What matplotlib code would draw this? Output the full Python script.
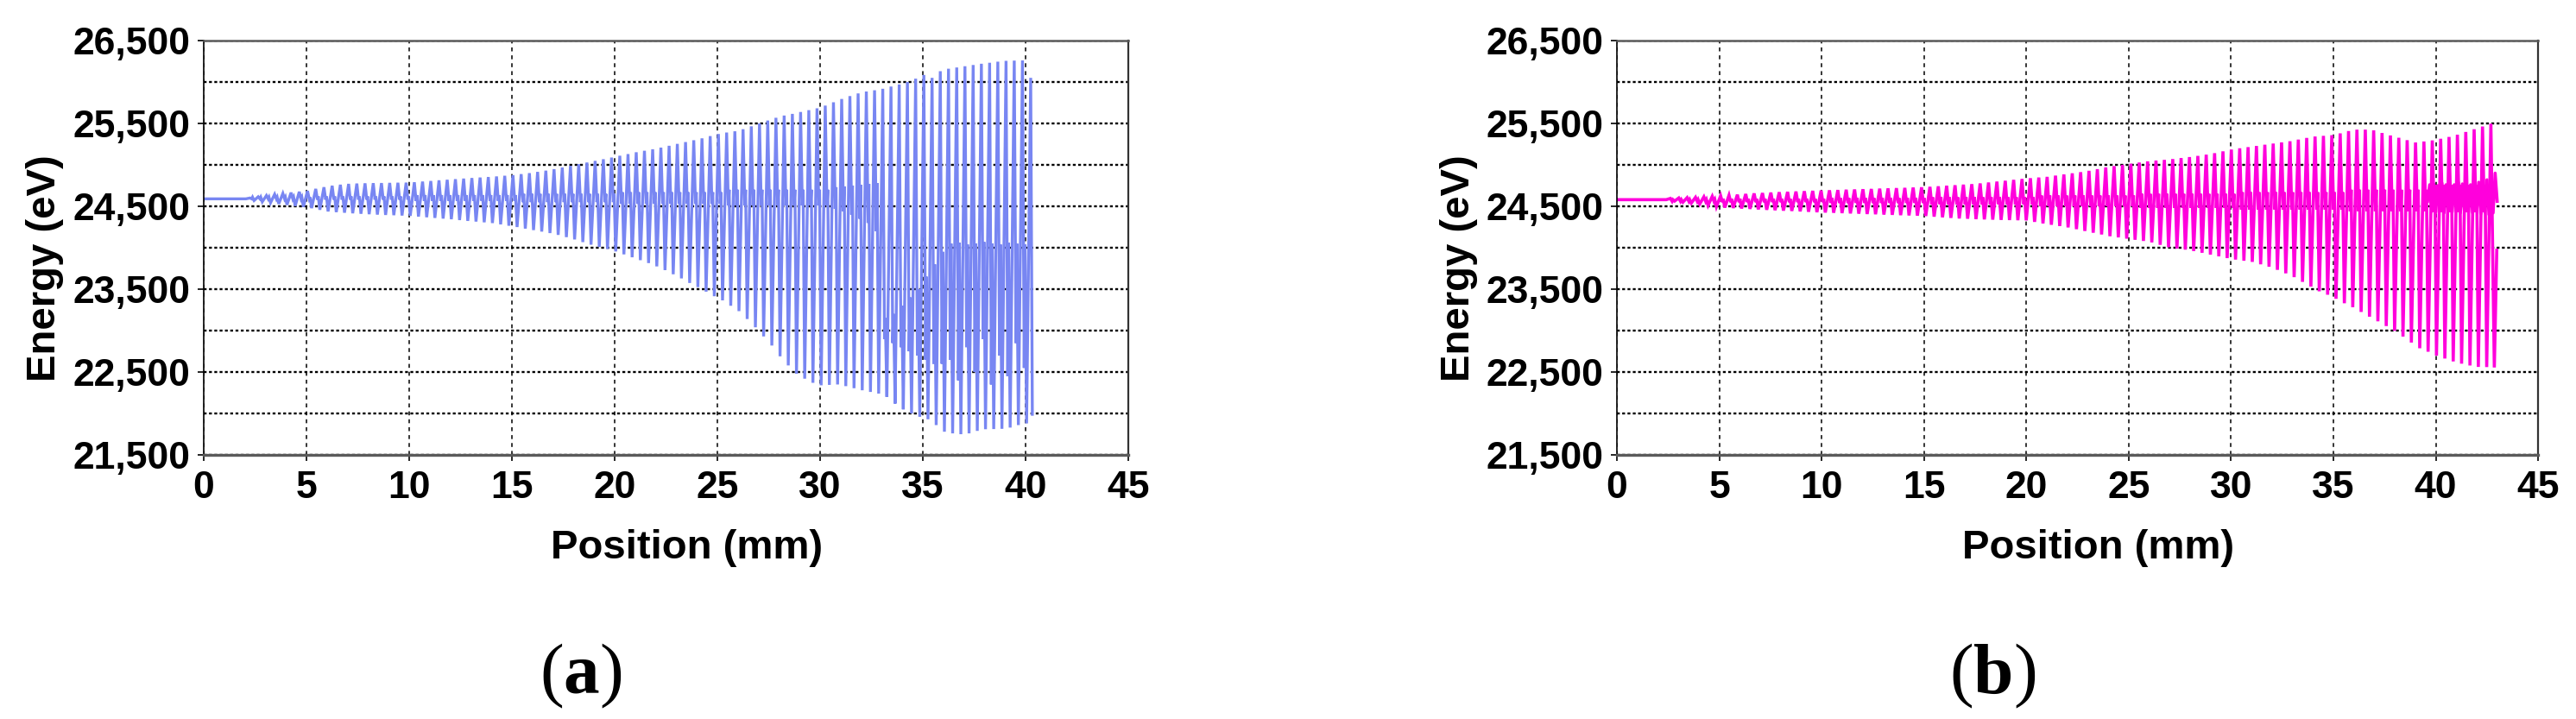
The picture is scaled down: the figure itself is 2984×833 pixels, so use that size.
import numpy as np
import matplotlib
matplotlib.use("Agg")
import matplotlib.pyplot as plt
from matplotlib.ticker import FuncFormatter

# ---------------- data ----------------
x_ticks = [0, 5, 10, 15, 20, 25, 30, 35, 40, 45]
y_ticks = [21500, 22500, 23500, 24500, 25500, 26500]
y_minor = [22000, 23000, 24000, 25000, 26000]
x_label = "Position (mm)"
y_label = "Energy (eV)"
panel_letters = ["a", "b"]

# panel (a): flat start, oscillation cycles (period ~0.40 mm, first peak at 2.25 mm)
start_a_pos = [0.0]
start_a_val = [24590]
first_peak_a = 2.25
period_a = 0.40
peak_a = [24600, 24615, 24630, 24645, 24655, 24665, 24675, 24685, 24710, 24730,
          24748, 24760, 24770, 24774, 24777, 24779, 24780, 24782, 24784, 24785,
          24790, 24798, 24805, 24813, 24820, 24827, 24834, 24841, 24847, 24853,
          24860, 24868, 24876, 24888, 24900, 24915, 24930, 24948, 24968, 24988,
          25008, 25028, 25048, 25068, 25088, 25110, 25130, 25152, 25170, 25188,
          25208, 25230, 25253, 25275, 25297, 25320, 25347, 25372, 25390, 25405,
          25430, 25465, 25500, 25535, 25568, 25595, 25615, 25638, 25660, 25682,
          25715, 25755, 25795, 25830, 25862, 25885, 25900, 25918, 25945, 25970,
          26000, 26040, 26085, 26050, 26130, 26160, 26175, 26190, 26205, 26220,
          26232, 26245, 26255, 26258, 26260, 26050]
trough_a = [24590, 24570, 24555, 24543, 24530, 24518, 24505, 24493, 24478, 24458,
            24438, 24430, 24423, 24416, 24410, 24405, 24400, 24396, 24393, 24389,
            24385, 24376, 24368, 24360, 24352, 24344, 24334, 24324, 24316, 24307,
            24298, 24282, 24266, 24250, 24231, 24213, 24195, 24177, 24155, 24128,
            24100, 24068, 24037, 24010, 23985, 23955, 23920, 23885, 23850, 23815,
            23775, 23730, 23680, 23630, 23575, 23525, 23470, 23415, 23365, 23300,
            23235, 23140, 23040, 22930, 22820, 22690, 22580, 22480, 22420, 22370,
            22340, 22345, 22350, 22330, 22305, 22280, 22260, 22240, 22200, 22120,
            22050, 22000, 21960, 21930, 21860, 21780, 21760, 21750, 21760, 21790,
            21810, 21812, 21815, 21830, 21860, 21880]
dip_a = [24590, 24590, 24590, 24590, 24590, 24590, 24590, 24590,
         24580, 24580, 24580, 24580, 24580, 24580, 24580, 24580, 24580, 24580, 24580, 24580,
         24565, 24565, 24565, 24565, 24565, 24565, 24565, 24565, 24565, 24565, 24565, 24565, 24565,
         24550, 24550, 24550, 24550, 24550, 24550, 24550, 24550, 24550, 24550, 24550, 24550,
         24530, 24530, 24530, 24530, 24530, 24530, 24530, 24530, 24530, 24530, 24530, 24530, 24530,
         24510, 24510, 24510, 24510, 24510, 24510, 24510, 24510, 24510, 24510, 24510, 24510, 24510,
         24470, 24440, 24400, 24350, 24300, 24200,
         22900, 22850, 22800, 22750, 22700, 22650, 22600, 22600,
         22650, 22400, 22800, 22500, 22900, 22350, 22700, 22450, 22850, 22550]
bump_a = [24610, 24610, 24610, 24610, 24610, 24610, 24610, 24610,
          24620, 24620, 24620, 24620, 24620, 24620, 24620, 24620, 24620, 24620, 24620, 24620,
          24635, 24635, 24635, 24635, 24635, 24635, 24635, 24635, 24635, 24635, 24635, 24635, 24635,
          24650, 24650, 24650, 24650, 24650, 24650, 24650, 24650, 24650, 24650, 24650, 24650,
          24670, 24670, 24670, 24670, 24670, 24670, 24670, 24670, 24670, 24670, 24670, 24670, 24670,
          24700, 24700, 24700, 24700, 24700, 24700, 24700, 24700, 24700, 24700, 24700, 24700, 24700,
          24730, 24740, 24750, 24760, 24770, 24780,
          23150, 23200, 23300, 23400, 23500, 23650, 23800, 23950,
          24050, 24060, 24040, 24050, 24070, 24050, 24040, 24060, 24050, 24040]
tail_a_pos = [40.33]
tail_a_val = [21990]

# panel (b): flat start, cycles (period ~0.409 mm, first peak at 2.61 mm)
start_b_pos = [0.0]
start_b_val = [24580]
first_peak_b = 2.61
period_b = 0.409
peak_b = [24595, 24600, 24604, 24608, 24614, 24620, 24626, 24633, 24640, 24648,
          24655, 24660, 24665, 24670, 24674, 24678, 24682, 24686, 24690, 24693,
          24696, 24700, 24703, 24706, 24709, 24713, 24716, 24719, 24722, 24726,
          24729, 24735, 24741, 24748, 24754, 24761, 24767, 24776, 24787, 24798,
          24808, 24819, 24830, 24839, 24847, 24855, 24870, 24884, 24898, 24912,
          24928, 24948, 24969, 24985, 25000, 25014, 25028, 25042, 25052, 25060,
          25070, 25082, 25094, 25108, 25123, 25141, 25163, 25185, 25200, 25214,
          25228, 25243, 25257, 25271, 25285, 25305, 25325, 25342, 25350, 25358,
          25380, 25408, 25425, 25425, 25416, 25385, 25355, 25327, 25298, 25270,
          25282, 25295, 25315, 25337, 25364, 25397, 25430, 25463, 25497]
trough_b = [24580, 24563, 24550, 24539, 24528, 24511, 24495, 24485, 24480, 24474,
            24469, 24463, 24458, 24453, 24448, 24444, 24439, 24434, 24429, 24425,
            24422, 24418, 24414, 24411, 24407, 24404, 24400, 24397, 24393, 24390,
            24387, 24383, 24375, 24367, 24360, 24353, 24350, 24345, 24342, 24339,
            24336, 24334, 24332, 24330, 24312, 24293, 24277, 24262, 24245, 24224,
            24202, 24181, 24160, 24139, 24125, 24110, 24096, 24082, 24064, 24035,
            24006, 23990, 23977, 23960, 23939, 23917, 23896, 23875, 23857, 23843,
            23829, 23800, 23771, 23733, 23691, 23645, 23588, 23531, 23474, 23433,
            23384, 23330, 23282, 23225, 23168, 23112, 23055, 22998, 22928, 22856,
            22787, 22745, 22698, 22663, 22628, 22601, 22579, 22562, 22560]
dip_b = [24560, 24560, 24560, 24560, 24560, 24560,
         24550, 24550, 24550, 24550, 24550, 24550, 24550, 24550, 24550, 24550, 24550, 24550, 24550,
         24540, 24540, 24540, 24540, 24540, 24540, 24540, 24540, 24540, 24540, 24540, 24540,
         24525, 24525, 24525, 24525, 24525, 24525, 24525, 24525, 24525, 24525, 24525, 24525, 24525,
         24500, 24500, 24500, 24500, 24500, 24500, 24500, 24500, 24500, 24500, 24500, 24500,
         24480, 24480, 24480, 24480, 24480, 24480, 24480, 24480, 24480, 24480, 24480, 24480,
         24460, 24460, 24460, 24460, 24460, 24460, 24460, 24460, 24460, 24460, 24460, 24460, 24460,
         24440, 24440, 24440, 24440, 24440, 24440, 24440, 24440, 24440, 24440,
         24430, 24430, 24430, 24430, 24430, 24430, 24430]
bump_b = [24580, 24580, 24580, 24580, 24580, 24580,
          24590, 24590, 24590, 24590, 24590, 24590, 24590, 24590, 24590, 24590, 24590, 24590, 24590,
          24600, 24600, 24600, 24600, 24600, 24600, 24600, 24600, 24600, 24600, 24600, 24600,
          24610, 24610, 24610, 24610, 24610, 24610, 24610, 24610, 24610, 24610, 24610, 24610, 24610,
          24630, 24630, 24630, 24630, 24630, 24630, 24630, 24630, 24630, 24630, 24630, 24630,
          24650, 24650, 24650, 24650, 24650, 24650, 24650, 24650, 24650, 24650, 24650, 24650,
          24670, 24670, 24670, 24670, 24670, 24670, 24670, 24670, 24670, 24670, 24670, 24670, 24670,
          24700, 24700, 24700, 24700, 24700, 24700, 24700, 24700, 24700, 24700,
          24760, 24760, 24760, 24760, 24760, 24760, 24760]
tail_b_pos = [42.86, 42.98]
tail_b_val = [22555, 23970]
# dense mid-band of panel (b), 39.6 .. 43.0 mm
band_b_range = (39.6, 43.0)
band_b_val = [24560, 24760, 24440, 24770, 24430, 24750, 24450, 24780, 24420, 24760,
              24440, 24770, 24430, 24760, 24450, 24790, 24420, 24770, 24440, 24780,
              24430, 24760, 24420, 24800, 24440, 24790, 24410, 24780, 24430, 24820,
              24400, 24850, 24420, 24900, 24560]

color_a = "#7886F2"
color_b = "#FF00DC"

# ---------------- build traces ----------------
def build_trace(start_pos, start_val, first_peak, period, troughs, peaks,
                dips, bumps, tail_pos, tail_val):
    xs = list(start_pos)
    ys = list(start_val)
    for k in range(len(peaks)):
        p = first_peak + period * k
        xs += [p - period / 2, p]
        ys += [troughs[k], peaks[k]]
        if k < len(dips):
            xs += [p + 0.21 * period, p + 0.31 * period]
            ys += [dips[k], bumps[k]]
    xs += list(tail_pos)
    ys += list(tail_val)
    return np.array(xs), np.array(ys)


xa, ya = build_trace(start_a_pos, start_a_val, first_peak_a, period_a,
                     trough_a, peak_a, dip_a, bump_a, tail_a_pos, tail_a_val)
xb, yb = build_trace(start_b_pos, start_b_val, first_peak_b, period_b,
                     trough_b, peak_b, dip_b, bump_b, tail_b_pos, tail_b_val)
band_x = np.linspace(band_b_range[0], band_b_range[1], len(band_b_val))

# ---------------- figure ----------------
plt.rcParams["font.family"] = ["Liberation Sans", "DejaVu Sans"]
plt.rcParams["font.weight"] = "bold"
plt.rcParams["mathtext.fontset"] = "custom"
plt.rcParams["mathtext.rm"] = "Liberation Serif:normal"
plt.rcParams["mathtext.bf"] = "Liberation Serif:bold"

fig = plt.figure(figsize=(29.84, 8.33), dpi=100)
ax_a = fig.add_axes([0.0791, 0.3673, 0.3589, 0.5763])
ax_b = fig.add_axes([0.6277, 0.3673, 0.3576, 0.5763])


def style(ax, letter):
    ax.set_xlim(0, 45)
    ax.set_ylim(21500, 26500)
    ax.set_xticks(x_ticks)
    ax.set_yticks(y_ticks)
    ax.set_yticks(y_minor, minor=True)
    ax.yaxis.set_major_formatter(FuncFormatter(lambda v, _: f"{v:,.0f}"))
    ax.grid(axis="x", which="major", color="black", lw=1.1, ls=(0, (3, 3)))
    ax.grid(axis="y", which="both", color="black", lw=1.7, ls=(0, (1.4, 1.2)))
    ax.tick_params(axis="both", which="major", direction="out", length=5,
                   width=1.2, labelsize=32, pad=6, colors="black")
    ax.tick_params(axis="y", which="minor", length=0)
    ax.tick_params(axis="x", pad=8)
    for lbl in ax.get_xticklabels() + ax.get_yticklabels():
        lbl.set_fontweight("bold")
    ax.spines["bottom"].set_color("#5a5a5a")
    ax.spines["bottom"].set_linewidth(2.4)
    ax.spines["top"].set_color("#5a5a5a")
    ax.spines["top"].set_linewidth(1.8)
    ax.spines["left"].set_color("black")
    ax.spines["left"].set_linewidth(1.2)
    ax.spines["right"].set_color("#333333")
    ax.spines["right"].set_linewidth(1.6)
    ax.set_xlabel(x_label, fontsize=34, fontweight="bold", va="center")
    ax.xaxis.set_label_coords(0.522, -0.225)
    ax.set_ylabel(y_label, fontsize=34, fontweight="bold", va="center", ha="center")
    ax.yaxis.set_label_coords(-0.172, 0.45)
    ax.text(0.408, -0.535, r"$(\mathbf{" + letter + r"})$",
            transform=ax.transAxes, ha="center", va="center", fontsize=60,
            fontweight="normal")


ax_a.plot(xa, ya, color=color_a, lw=2.4, solid_joinstyle="miter")
ax_b.plot(xb, yb, color=color_b, lw=2.6, solid_joinstyle="miter")
ax_b.plot(band_x, band_b_val, color=color_b, lw=2.6)

style(ax_a, panel_letters[0])
style(ax_b, panel_letters[1])

fig.savefig("out.png", dpi=100)
